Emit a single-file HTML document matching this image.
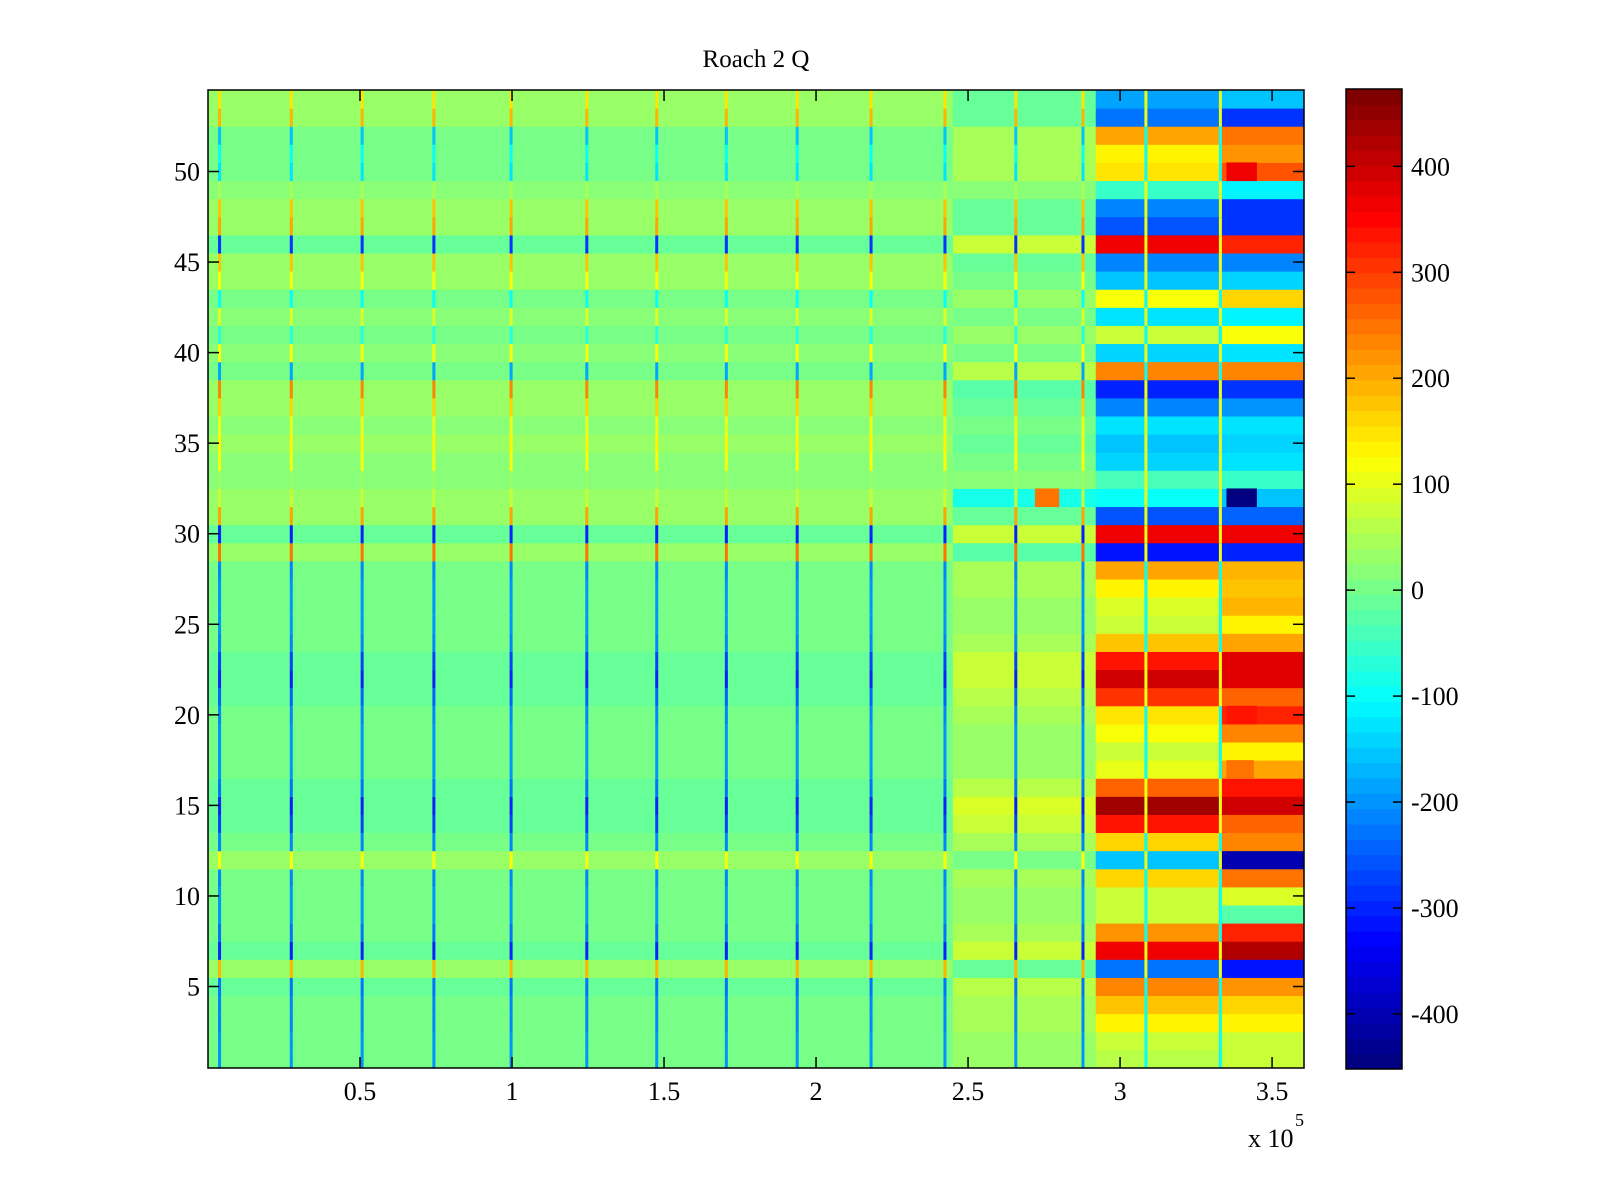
<!DOCTYPE html>
<html><head><meta charset="utf-8"><style>
html,body{margin:0;padding:0;background:#fff;}
svg{display:block;font-family:"Liberation Serif",serif;}
</style></head><body>
<svg id="fig" width="1600" height="1200" viewBox="0 0 1600 1200" xmlns="http://www.w3.org/2000/svg">
<rect width="1600" height="1200" fill="#fff"/>
<text x="756" y="67" font-size="25" text-anchor="middle">Roach 2 Q</text>
<g id="cells"></g>
<g id="cbar"></g>
<g id="axes"></g>
</svg>
<script>
// ---- data ----
const rowsBase = [10,9,4,0,-4,30,-15,-3,9,8,2,30,2,-12,-18,-5,6,8,5,3,-8,-16,-12,0,9,8,5,0,35,-14,32,30,18,24,26,24,30,34,-3,24,10,22,6,25,30,-14,32,30,18,5,7,0,30,26];
const rowsNear = [29,31,41,47,55,-15,76,53,31,32,44,-3,44,71,85,59,37,32,38,43,65,80,71,47,31,34,40,50,-27,76,-18,-80,14,-1,-4,0,-12,-25,55,-1,32,2,38,-3,-13,74,-18,-13,13,43,40,50,-15,-7];
const rowsA = [60,70,140,180,230,-230,370,220,70,80,160,-150,160,340,430,260,110,80,120,150,300,400,340,180,70,90,130,200,-310,370,-250,-100,-40,-140,-160,-130,-210,-300,230,-140,80,-120,120,-150,-220,360,-250,-220,-50,150,130,200,-230,-180];
const rowsB = [80,80,130,160,220,-320,420,320,-20,90,250,-400,230,260,390,330,200,130,230,320,270,380,380,200,130,190,170,190,-300,360,-240,-150,-60,-120,-140,-120,-200,-280,240,-130,120,-110,160,-140,-210,320,-280,-290,-110,280,220,250,-280,-150];
const spikeVals = [-200,-200,-210,-220,-230,184,-296,-230,-200,-200,-210,120,-210,-272,-300,-230,-200,-200,-200,-210,-240,-300,-272,-220,-200,-200,-200,-210,248,-296,200,80,32,112,128,104,168,240,-184,112,-64,96,-96,120,176,-288,200,176,40,-120,-104,-160,184,144];
const spikeX = [0.038,0.274,0.507,0.743,0.997,1.246,1.476,1.705,1.938,2.181,2.424,2.657,2.878];
const overrides = [[32,2.72,2.80,250],[32,3.35,3.45,-450],[50,3.35,3.45,360],[17,3.35,3.44,250],[20,3.35,3.45,330]];
const segEdges = [0,2.45,2.92,3.6];
const lineX = [3.085,3.33];
const xTicks = [0.5,1,1.5,2,2.5,3,3.5];
const yTicks = [5,10,15,20,25,30,35,40,45,50];
const cTicks = [-400,-300,-200,-100,0,100,200,300,400];
const cMin = -452, cMax = 473;

// ---- geometry ----
const L=208,R=1304,T=90,B=1068, X0=0, X1=3.605, NR=54;
const xs=v=>L+(v-X0)/(X1-X0)*(R-L);
const ys=r=>B-(r-0.5)/NR*(B-T);
function jet(v){let x=(v-cMin)/(cMax-cMin);x=Math.max(0,Math.min(1,x));x=Math.floor(x*63.999)/63;
 const c=t=>Math.round(255*Math.max(0,Math.min(1,1.5-Math.abs(4*x-t))));return `rgb(${c(3)},${c(2)},${c(1)})`;}
const NS='http://www.w3.org/2000/svg';
function rect(g,x,y,w,h,f){const e=document.createElementNS(NS,'rect');e.setAttribute('x',x);e.setAttribute('y',y);e.setAttribute('width',w);e.setAttribute('height',h);e.setAttribute('fill',f);g.appendChild(e);return e;}
const cells=document.getElementById('cells');
for(let i=0;i<NR;i++){
 const r=i+1, y0=ys(r+0.5), h=ys(r-0.5)-y0+0.5;
 let e=rect(cells,xs(segEdges[0]),y0,xs(segEdges[1])-xs(segEdges[0])+0.5,h,jet(rowsBase[i]));
 
 
 e=rect(cells,xs(segEdges[1]),y0,xs(segEdges[2])-xs(segEdges[1])+0.5,h,jet(rowsNear[i]));
 
 
 e=rect(cells,xs(segEdges[2]),y0,xs(lineX[1])-xs(segEdges[2])+0.5,h,jet(rowsA[i]));
 
 
 e=rect(cells,xs(lineX[1]),y0,R-xs(lineX[1]),h,jet(rowsB[i]));
 
 
 spikeX.forEach(sx=>{const s=rect(cells,xs(sx)-1.5,y0,3,h,jet(spikeVals[i]));
  
  });
 const lv=(rowsA[i]>50&&rowsA[i]<250)?-100:100;
 lineX.forEach(lx=>{const s=rect(cells,xs(lx)-1.5,y0,3,h,jet(lv));
  
  });
}
overrides.forEach(o=>{const y0=ys(o[0]+0.5);const e=rect(cells,xs(o[1]),y0,xs(o[2])-xs(o[1]),ys(o[0]-0.5)-y0+0.5,jet(o[3]));
 
 });

// ---- colorbar ----
const CL=1346,CR=1402,CT=89,CB=1069;
const cy=v=>CB-(v-cMin)/(cMax-cMin)*(CB-CT);
const cb=document.getElementById('cbar');
for(let k=0;k<64;k++){const v0=cMin+k*(cMax-cMin)/64,v1=cMin+(k+1)*(cMax-cMin)/64;
 const e=rect(cb,CL,cy(v1),CR-CL,cy(v0)-cy(v1)+0.5,jet((v0+v1)/2));
 
 }
function line(g,x1,y1,x2,y2){const e=document.createElementNS(NS,'line');e.setAttribute('x1',x1);e.setAttribute('y1',y1);e.setAttribute('x2',x2);e.setAttribute('y2',y2);e.setAttribute('stroke','#000');e.setAttribute('stroke-width','1.5');g.appendChild(e);return e;}
function text(g,x,y,s,anchor,size){const e=document.createElementNS(NS,'text');e.setAttribute('x',x);e.setAttribute('y',y);e.setAttribute('font-size',size||26);e.setAttribute('text-anchor',anchor);e.textContent=s;g.appendChild(e);return e;}
const fr=rect(cb,CL,CT,CR-CL,CB-CT,'none');fr.setAttribute('stroke','#000');fr.setAttribute('stroke-width','1.5');


cTicks.forEach(v=>{line(cb,CL,cy(v),CL+9,cy(v));line(cb,CR-9,cy(v),CR,cy(v));
 const t=text(cb,1411,cy(v)+9,String(v),'start');
 
 });

// ---- axes ----
const ax=document.getElementById('axes');
const af=rect(ax,L,T,R-L,B-T,'none');af.setAttribute('stroke','#000');af.setAttribute('stroke-width','1.5');


xTicks.forEach(v=>{const x=xs(v);line(ax,x,B,x,B-11);line(ax,x,T,x,T+11);
 const t=text(ax,x,1100,String(v),'middle');
 
 });
yTicks.forEach(v=>{const y=ys(v);line(ax,L,y,L+11,y);line(ax,R,y,R-11,y);
 const t=text(ax,200,y+9,String(v),'end');
 
 });
const ex=text(ax,1248,1147,'x 10','start');


const sup=text(ax,1295,1126,'5','start',18);


</script>
</body></html>
